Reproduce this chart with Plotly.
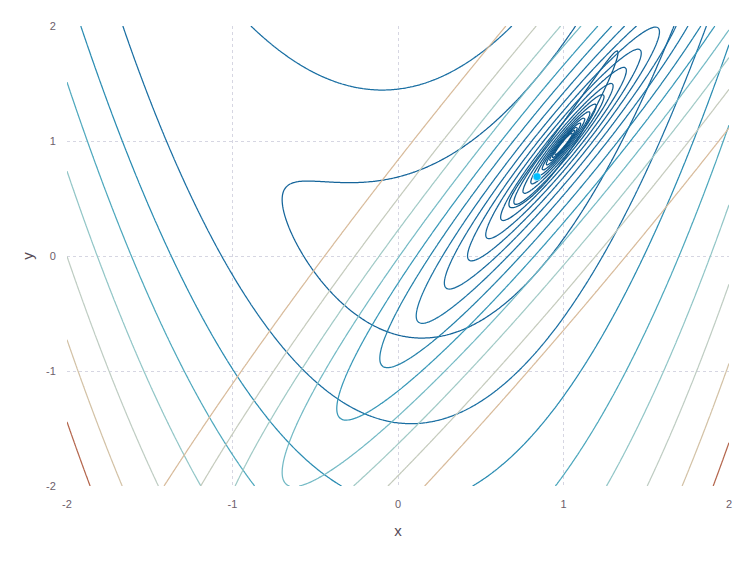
import numpy as np
import plotly.graph_objects as go

# ---- data / parameters ----
x_range = [-2.0, 2.0]
y_range = [-2.0, 2.0]
tick_vals = [-2, -1, 0, 1, 2]
tick_text = ["-2", "-1", "0", "1", "2"]

# objective: residual norm of r = (1-x, w*(y-x^2))
resid_weight = 2.0
obj_levels = [0.33, 1.70, 3.07, 4.44, 5.81, 7.18, 8.55, 9.92, 11.29]
obj_colors = ["#0d5a8a", "#14649a", "#1a6fa3", "#2a8cb2", "#4ea8bd",
              "#92c6c7", "#bfcdc3", "#d3c2a6", "#b4664d"]

# linearised (Gauss-Newton) model at the current point
point_x = [0.84]
point_y = [0.69]
model_x0 = 0.84
model_levels = [0.055, 0.068, 0.084, 0.104, 0.129, 0.16, 0.198, 0.245,
                0.30, 0.38, 0.47, 0.58, 0.72, 0.89, 1.11, 1.37, 1.70,
                2.11, 2.61, 3.24]
model_colors = ["#0d5688", "#0d5688", "#0e5789", "#0e578a", "#0f588b",
                "#10598c", "#115a8d", "#125c8f", "#135e92", "#146196",
                "#156499", "#17689c", "#196c9f", "#1c74a5", "#2380aa",
                "#3898b8", "#74bac5", "#a1cac6", "#c5cbbd", "#d8bb9b"]

# ---- grid ----
xs = np.linspace(x_range[0], x_range[1], 451)
ys = np.linspace(y_range[0], y_range[1], 451)
X, Y = np.meshgrid(xs, ys)

z_obj = np.sqrt((1 - X) ** 2 + (resid_weight * (Y - X ** 2)) ** 2)
x0 = model_x0
z_model = np.sqrt((1 - X) ** 2 + (resid_weight * (Y - 2 * x0 * X + x0 ** 2)) ** 2)

fig = go.Figure()


def add_level(z, level, color):
    fig.add_trace(go.Contour(
        x=xs, y=ys, z=z,
        contours=dict(coloring="lines", start=level, end=level, size=1.0,
                      showlabels=False),
        colorscale=[[0, color], [1, color]],
        line=dict(width=1.25), showscale=False, hoverinfo="skip"))


for lev, col in zip(obj_levels, obj_colors):
    add_level(z_obj, lev, col)

for lev, col in zip(model_levels, model_colors):
    add_level(z_model, lev, col)

fig.add_trace(go.Scatter(
    x=point_x, y=point_y, mode="markers",
    marker=dict(color="#00BFFF", size=8, line=dict(color="white", width=0.5)),
    showlegend=False, hoverinfo="skip"))

font_family = "Liberation Sans, DejaVu Sans, sans-serif"
axis_common = dict(
    tickvals=tick_vals, ticktext=tick_text,
    showgrid=True, gridcolor="#D6D6E2", griddash="3px,3px", gridwidth=1,
    zeroline=False, showline=False, automargin=False,
    ticks="outside", ticklen=8, tickcolor="rgba(0,0,0,0)",
    tickfont=dict(family=font_family, size=11, color="#6c606b"),
)

# page body has an 8px margin: figure sized to fit the 756x567 window
fig.update_layout(
    width=740, height=551,
    margin=dict(l=59, r=19, t=18, b=73),
    paper_bgcolor="white", plot_bgcolor="white",
    showlegend=False,
    xaxis=dict(range=x_range,
               title=dict(text="x", standoff=16,
                          font=dict(family=font_family, size=15, color="#564a55")),
               **axis_common),
    yaxis=dict(range=y_range,
               title=dict(text="y", standoff=8,
                          font=dict(family=font_family, size=15, color="#564a55")),
               **axis_common),
)

fig.write_html("out.html")
